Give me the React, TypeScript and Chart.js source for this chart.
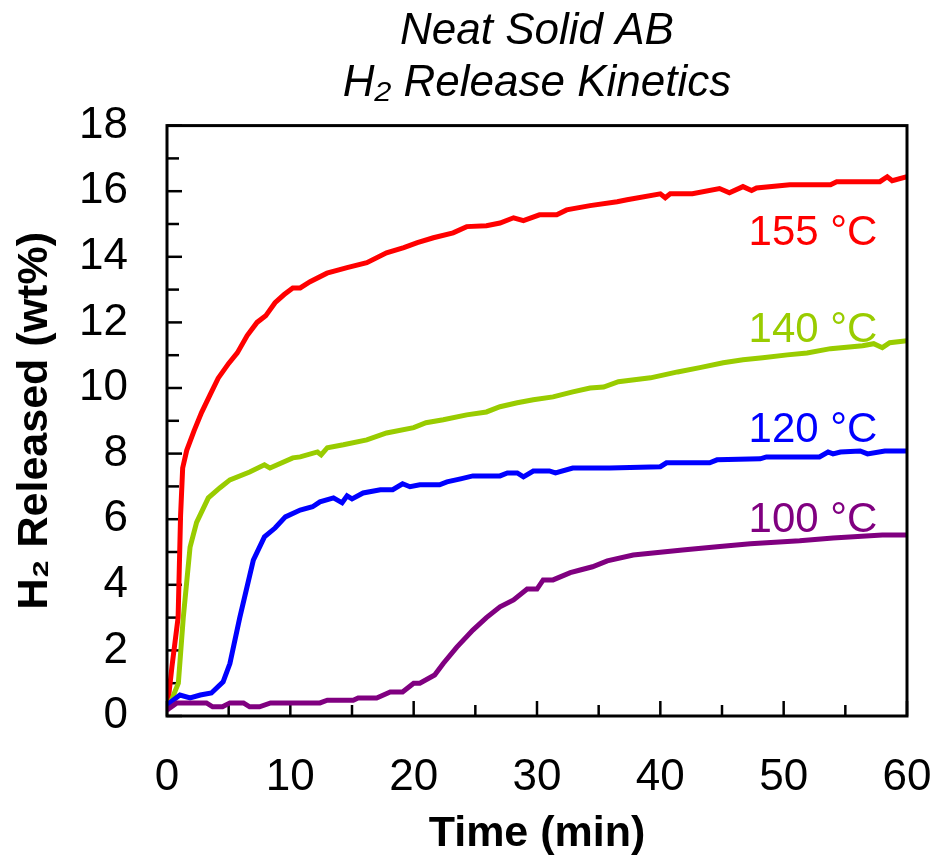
import React, { useEffect, useRef } from "react";
import { Chart, registerables } from "chart.js";

Chart.register(...registerables);

const FONT = "'Liberation Sans', Arial, Helvetica, sans-serif";

// 155 °C
const t155 = [0, 0.4, 0.9, 1.1, 1.27, 1.6, 2.2, 2.8, 3.5, 4.15, 5.0, 5.7, 6.5, 7.3, 8.0, 8.76, 9.5, 10.2, 10.8, 11.6, 12.97, 14.6, 16.2, 17.8, 19.2, 20.3, 21.6, 23.2, 24.3, 25.9, 27, 28.1, 28.9, 30.2, 31.6, 32.4, 34.3, 36.5, 37.3, 40, 40.4, 40.8, 42.6, 44.8, 45.6, 46.7, 47.4, 47.8, 50.5, 53.8, 54.3, 57.8, 58.4, 58.8, 60];
const v155 = [0.15, 1.5, 3.0, 6.1, 7.56, 8.1, 8.7, 9.25, 9.8, 10.3, 10.75, 11.07, 11.6, 12.0, 12.2, 12.6, 12.85, 13.05, 13.05, 13.24, 13.5, 13.67, 13.82, 14.12, 14.28, 14.43, 14.58, 14.73, 14.92, 14.95, 15.03, 15.19, 15.1, 15.28, 15.28, 15.43, 15.56, 15.68, 15.74, 15.92, 15.8, 15.92, 15.92, 16.08, 15.95, 16.14, 16.02, 16.1, 16.2, 16.2, 16.29, 16.29, 16.44, 16.32, 16.44];

// 140 °C
const t140 = [0, 0.38, 0.92, 1.32, 1.87, 2.4, 3.35, 4.3, 5.1, 6.7, 7.9, 8.35, 10.2, 10.8, 12.2, 12.5, 13, 14.3, 16.2, 17.8, 20, 21, 22.4, 24.3, 25.9, 27, 28.4, 29.7, 31.3, 32.9, 34.3, 35.4, 36.6, 39.2, 41.4, 43.2, 45.1, 46.7, 48.3, 50.3, 51.9, 53.8, 56.4, 57.3, 58, 58.6, 60];
const v140 = [0.2, 0.5, 1.0, 3.0, 5.15, 5.9, 6.65, 6.96, 7.2, 7.44, 7.66, 7.56, 7.87, 7.9, 8.05, 7.96, 8.18, 8.27, 8.42, 8.63, 8.79, 8.94, 9.03, 9.18, 9.27, 9.43, 9.55, 9.64, 9.73, 9.88, 10.0, 10.03, 10.19, 10.31, 10.49, 10.62, 10.77, 10.86, 10.92, 11.01, 11.07, 11.2, 11.29, 11.35, 11.23, 11.38, 11.44];

// 120 °C
const t120 = [0, 1.05, 1.87, 2.7, 3.6, 4.55, 5.1, 5.9, 7.0, 7.9, 8.76, 9.6, 10.8, 11.8, 12.4, 13.5, 14.2, 14.6, 15, 15.9, 17.3, 18.3, 19.1, 19.7, 20.5, 22.1, 22.7, 23.8, 24.8, 27, 27.6, 28.4, 28.9, 29.7, 31, 31.5, 32.9, 35.9, 40, 40.5, 44, 44.6, 48.1, 48.6, 52.9, 53.6, 54, 54.6, 56.2, 56.8, 58.2, 60];
const v120 = [0.34, 0.64, 0.55, 0.64, 0.7, 1.04, 1.6, 3.0, 4.75, 5.46, 5.73, 6.07, 6.28, 6.38, 6.53, 6.65, 6.5, 6.71, 6.62, 6.8, 6.9, 6.9, 7.08, 6.99, 7.05, 7.05, 7.14, 7.23, 7.32, 7.32, 7.41, 7.41, 7.29, 7.47, 7.47, 7.41, 7.56, 7.56, 7.6, 7.72, 7.72, 7.81, 7.84, 7.9, 7.9, 8.05, 7.99, 8.05, 8.08, 7.99, 8.08, 8.08];

// 100 °C
const t100 = [0, 0.8, 3.2, 3.7, 4.5, 5.1, 6.2, 6.7, 7.5, 8.4, 12.4, 13, 15.1, 15.5, 17, 18.1, 19.1, 20, 20.5, 21.7, 22.4, 23.5, 24.8, 25.9, 27, 28.1, 29.2, 30, 30.5, 31.3, 32.7, 33.5, 34.5, 35.7, 37.8, 41.8, 44.6, 47.3, 51.3, 54, 58, 60];
const v100 = [0.18, 0.4, 0.4, 0.28, 0.28, 0.4, 0.4, 0.28, 0.28, 0.4, 0.4, 0.48, 0.48, 0.55, 0.55, 0.73, 0.73, 1.0, 1.0, 1.25, 1.6, 2.1, 2.62, 3.0, 3.33, 3.54, 3.87, 3.87, 4.15, 4.15, 4.37, 4.45, 4.55, 4.73, 4.91, 5.06, 5.16, 5.25, 5.34, 5.43, 5.52, 5.52];

// Series labels
const seriesNames = ["155 °C", "140 °C", "120 °C", "100 °C"];
const seriesColors = ["#FF0000", "#99CC00", "#0000FF", "#800080"];
const labelX = [57.6, 57.6, 57.6, 57.6];
const labelY = [14.37, 11.41, 8.36, 5.61];

const titleLines = ["Neat Solid AB", "H₂ Release Kinetics"];
const xTitle = "Time (min)";
const yTitle = "H₂ Released (wt%)";

const pts = (t: number[], v: number[]) => t.map((x, i) => ({ x, y: v[i] }));

const boxTicksPlugin = {
  id: "boxTicks",
  beforeDatasetsDraw(chart: any) {
    const { ctx, chartArea, scales } = chart;
    const xs = scales.x;
    const ys = scales.y;
    ctx.save();
    ctx.strokeStyle = "#000";
    ctx.lineWidth = 2.5;
    ctx.lineCap = "butt";
    for (let v = 0; v <= 18; v += 1) {
      const y = ys.getPixelForValue(v);
      const len = v % 2 === 0 ? 15 : 12;
      ctx.beginPath();
      ctx.moveTo(chartArea.left, y);
      ctx.lineTo(chartArea.left + len, y);
      ctx.stroke();
    }
    for (let t = 0; t <= 60; t += 5) {
      const x = xs.getPixelForValue(t);
      const len = t % 10 === 0 ? 15 : 11;
      ctx.beginPath();
      ctx.moveTo(x, chartArea.bottom);
      ctx.lineTo(x, chartArea.bottom - len);
      ctx.stroke();
    }
    ctx.restore();
  },
  afterDatasetsDraw(chart: any) {
    const { ctx, chartArea, scales } = chart;
    ctx.save();
    ctx.strokeStyle = "#000";
    ctx.lineWidth = 3;
    ctx.strokeRect(chartArea.left, chartArea.top, chartArea.right - chartArea.left, chartArea.bottom - chartArea.top);
    ctx.font = `42px ${FONT}`;
    ctx.textAlign = "right";
    ctx.textBaseline = "alphabetic";
    seriesNames.forEach((name, i) => {
      ctx.fillStyle = seriesColors[i];
      ctx.fillText(name, scales.x.getPixelForValue(labelX[i]), scales.y.getPixelForValue(labelY[i]));
    });
    ctx.restore();
  },
};

export default function App() {
  const ref = useRef<HTMLCanvasElement>(null);
  useEffect(() => {
    if (!ref.current) return;
    const common = { pointRadius: 0, borderWidth: 5, tension: 0, fill: false, showLine: true };
    const chart = new Chart(ref.current, {
      type: "scatter",
      data: {
        datasets: [
          { label: seriesNames[3], data: pts(t100, v100), borderColor: seriesColors[3], backgroundColor: seriesColors[3], ...common },
          { label: seriesNames[2], data: pts(t120, v120), borderColor: seriesColors[2], backgroundColor: seriesColors[2], ...common },
          { label: seriesNames[1], data: pts(t140, v140), borderColor: seriesColors[1], backgroundColor: seriesColors[1], ...common },
          { label: seriesNames[0], data: pts(t155, v155), borderColor: seriesColors[0], backgroundColor: seriesColors[0], ...common },
        ],
      },
      options: {
        responsive: false,
        animation: false,
        devicePixelRatio: 1,
        layout: { padding: { left: 0, right: 26, top: 0, bottom: 0 } },
        plugins: {
          legend: { display: false },
          tooltip: { enabled: false },
          title: {
            display: true,
            text: titleLines,
            fullSize: false,
            color: "#000",
            font: { family: FONT, size: 44, style: "italic", weight: "normal", lineHeight: 1.2 },
            padding: { top: 5, bottom: 15 },
          },
        },
        scales: {
          x: {
            type: "linear",
            min: 0,
            max: 60,
            grid: { display: false, drawTicks: false },
            border: { display: false },
            ticks: { stepSize: 10, color: "#000", padding: 35, font: { family: FONT, size: 44 }, maxRotation: 0 },
            title: {
              display: true,
              text: xTitle,
              color: "#000",
              font: { family: FONT, size: 43, weight: "bold", lineHeight: 1.2 },
              padding: { top: 0, bottom: 1 },
            },
            afterFit: (s: any) => { s.height = 145; s.paddingLeft = 0; s.paddingRight = 0; },
          },
          y: {
            type: "linear",
            min: 0,
            max: 18,
            grid: { display: false, drawTicks: false },
            border: { display: false },
            ticks: { stepSize: 2, color: "#000", padding: 39, font: { family: FONT, size: 44 } },
            title: {
              display: true,
              text: yTitle,
              color: "#000",
              font: { family: FONT, size: 43, weight: "bold", lineHeight: 1.2 },
              padding: { top: 9, bottom: 0 },
            },
            afterFit: (s: any) => { s.width = 167; },
          },
        },
      },
      plugins: [boxTicksPlugin],
    });
    return () => chart.destroy();
  }, []);
  return (
    <div style={{ position: "absolute", left: 0, top: 0, width: 933, height: 861, background: "#fff" }}>
      <canvas ref={ref} width={933} height={861} style={{ display: "block" }} />
    </div>
  );
}
